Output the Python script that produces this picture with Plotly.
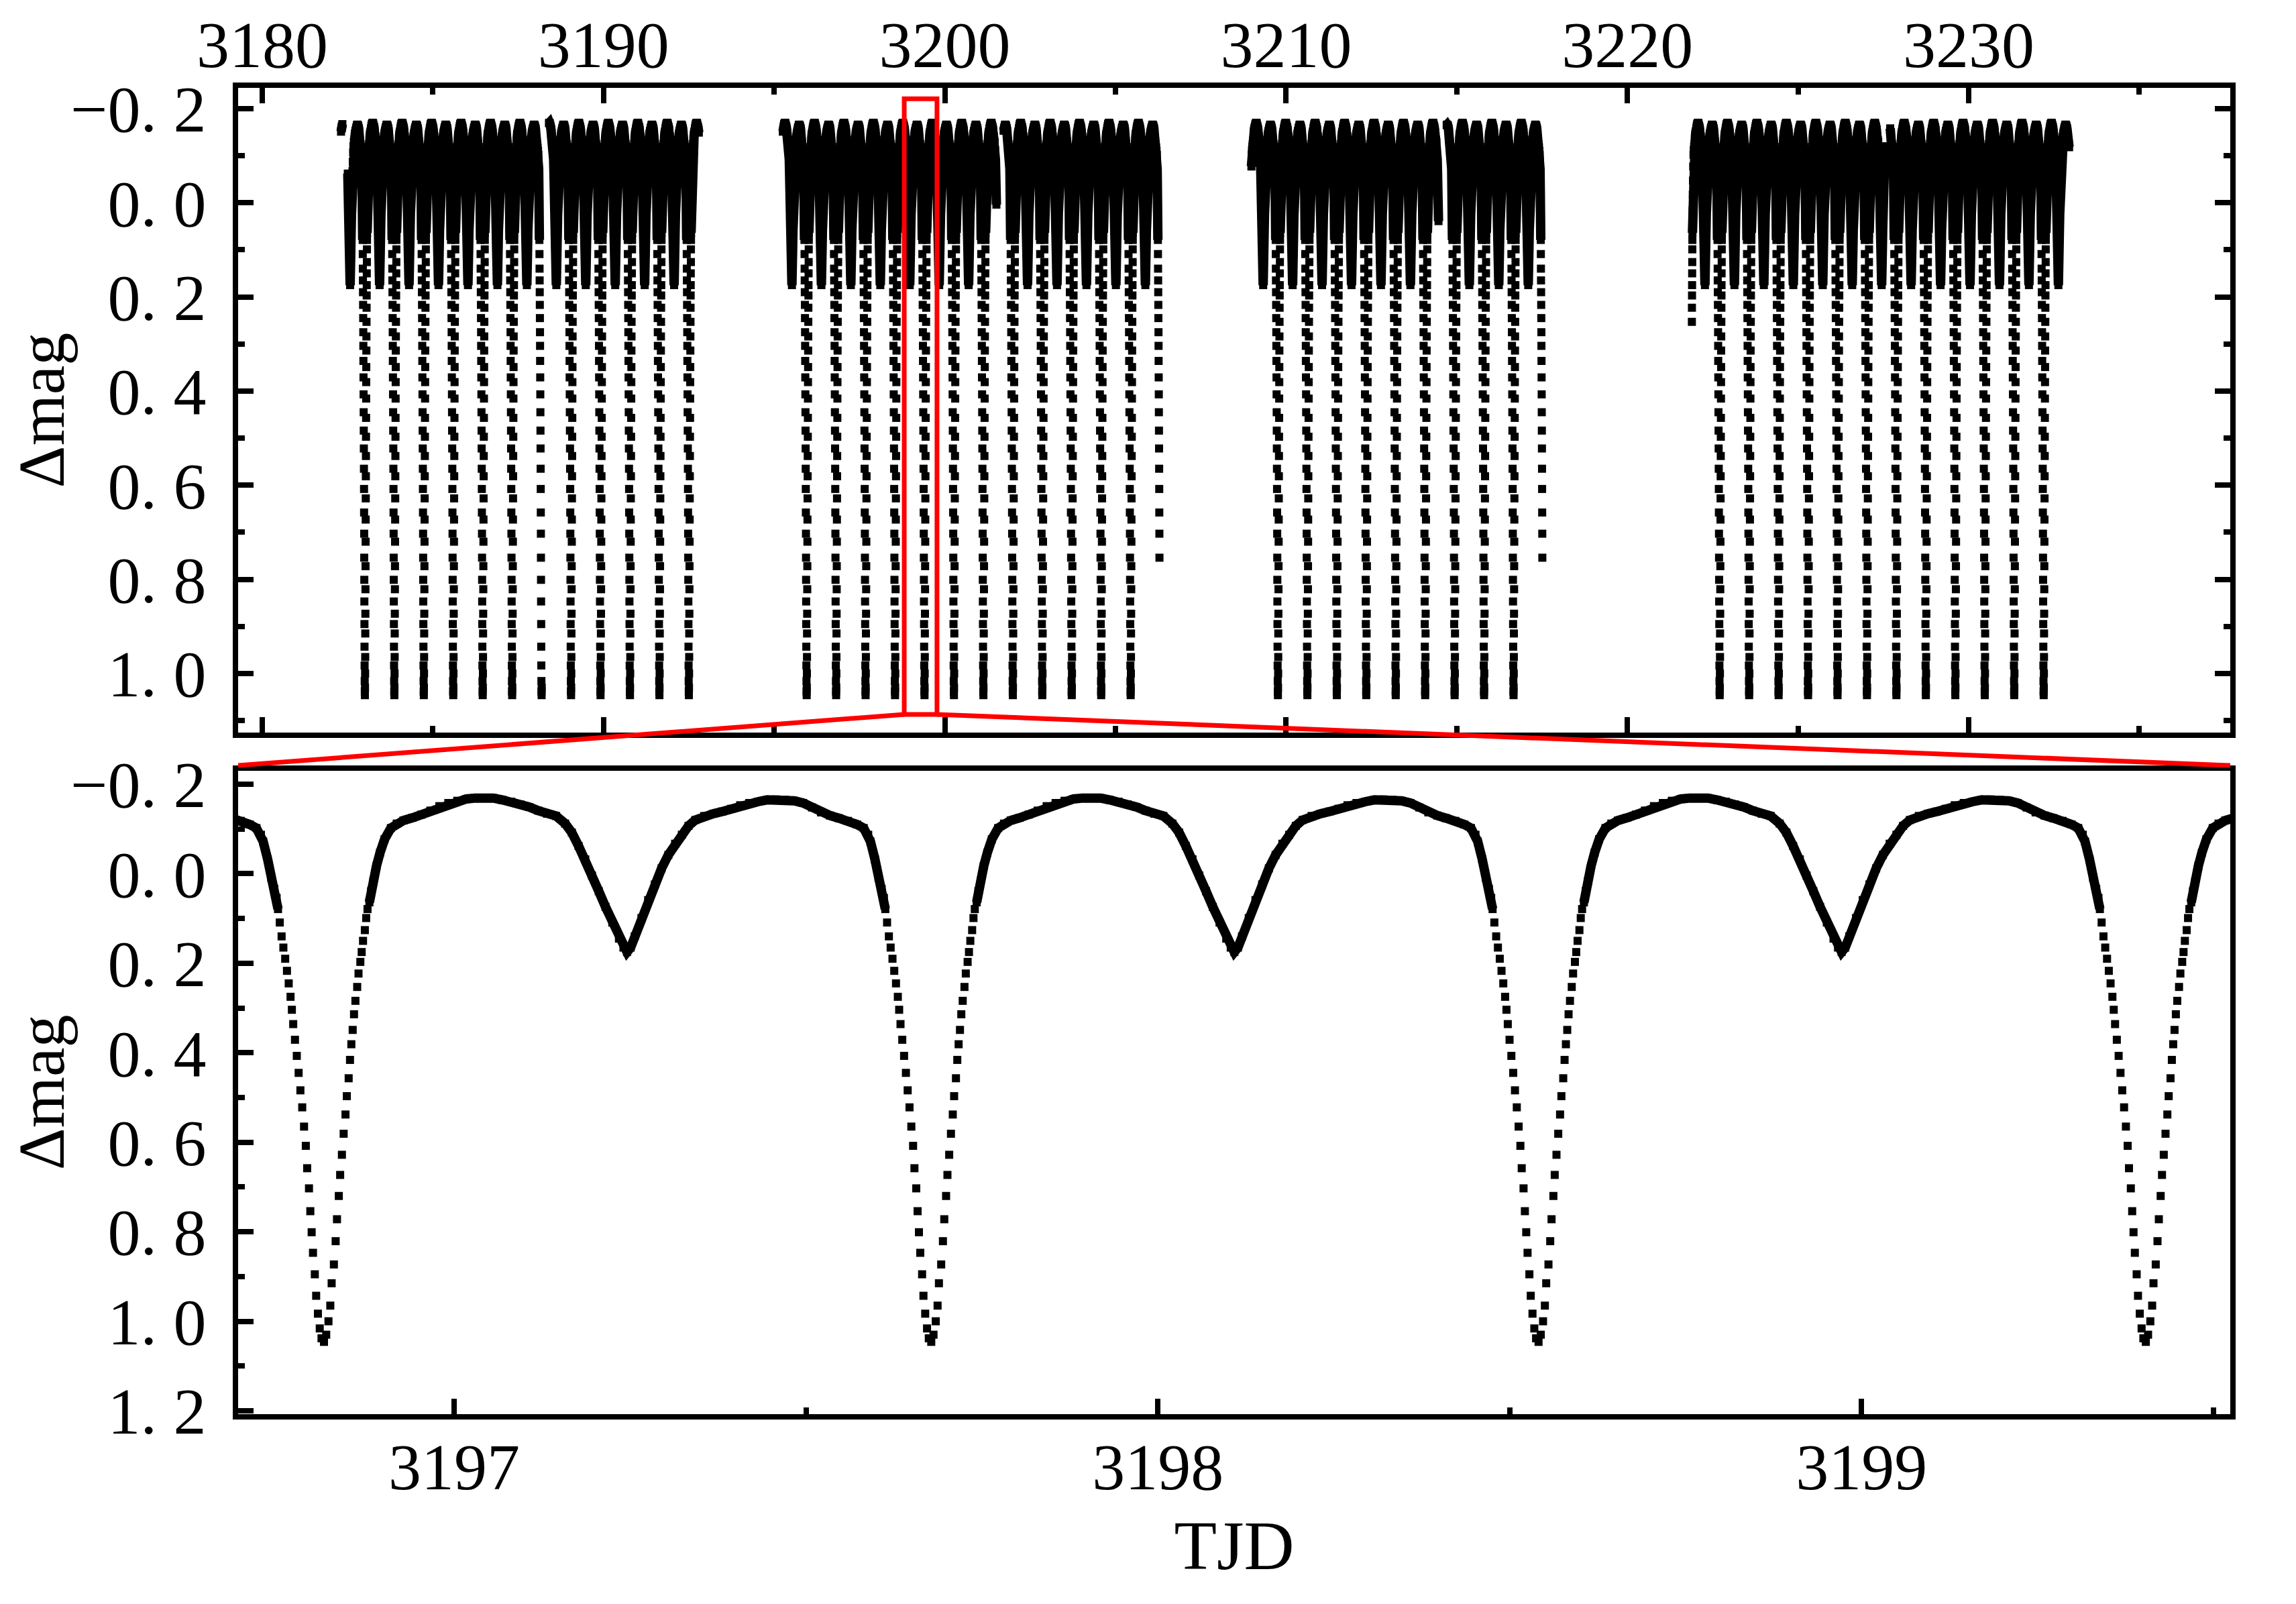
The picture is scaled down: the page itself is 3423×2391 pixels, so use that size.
# Eclipsing binary light curve: full TESS span (top) and a 3-day zoom (bottom)
import plotly.graph_objects as go
from plotly.subplots import make_subplots

# one orbital cycle: days after primary minimum / delta mag
CYCLE_DT = [
    0.0000, 0.0032, 0.0064, 0.0090, 0.0109, 0.0141, 0.0166, 0.0185, 0.0211, 0.0230,
    0.0255, 0.0280, 0.0306, 0.0325, 0.0351, 0.0370, 0.0389, 0.0408, 0.0427, 0.0447,
    0.0472, 0.0491, 0.0517, 0.0536, 0.0555, 0.0581, 0.0600, 0.0619, 0.0645, 0.0670,
    0.0702, 0.0746, 0.0797, 0.0861, 0.0951, 0.1034, 0.1130, 0.1257, 0.1384, 0.1512,
    0.1640, 0.1767, 0.1895, 0.2023, 0.2151, 0.2278, 0.2406, 0.2533, 0.2661, 0.2788,
    0.2916, 0.3044, 0.3172, 0.3299, 0.3427, 0.3522, 0.3618, 0.3713, 0.3809, 0.3905,
    0.4001, 0.4097, 0.4192, 0.4256, 0.4307, 0.4358, 0.4416, 0.4512, 0.4607, 0.4702,
    0.4798, 0.4894, 0.4990, 0.5086, 0.5181, 0.5277, 0.5405, 0.5533, 0.5660, 0.5787,
    0.5915, 0.6043, 0.6170, 0.6298, 0.6426, 0.6554, 0.6681, 0.6808, 0.6936, 0.7064,
    0.7191, 0.7319, 0.7447, 0.7575, 0.7670, 0.7734, 0.7766, 0.7830, 0.7881, 0.7925,
    0.7957, 0.7977, 0.8002, 0.8028, 0.8053, 0.8079, 0.8104, 0.8129, 0.8155, 0.8174,
    0.8193, 0.8218, 0.8244, 0.8270, 0.8295, 0.8321, 0.8347, 0.8372, 0.8391, 0.8417,
    0.8436, 0.8455, 0.8474, 0.8500, 0.8519, 0.8544, 0.8570, 0.8595,
]
CYCLE_MAG = [
    1.046, 1.030, 1.000, 0.965, 0.915, 0.873, 0.821, 0.772, 0.720, 0.673,
    0.628, 0.581, 0.538, 0.497, 0.457, 0.416, 0.381, 0.349, 0.314, 0.284,
    0.253, 0.223, 0.197, 0.175, 0.150, 0.126, 0.099, 0.079, 0.064, 0.039,
    0.017, -0.017, -0.047, -0.077, -0.102, -0.112, -0.119, -0.125, -0.132, -0.141,
    -0.151, -0.158, -0.163, -0.167, -0.169, -0.170, -0.169, -0.165, -0.161, -0.155,
    -0.149, -0.141, -0.134, -0.129, -0.112, -0.092, -0.062, -0.032, 0.004, 0.039,
    0.074, 0.109, 0.145, 0.165, 0.175, 0.165, 0.140, 0.099, 0.059, 0.024,
    -0.012, -0.042, -0.067, -0.087, -0.107, -0.120, -0.129, -0.134, -0.139, -0.145,
    -0.153, -0.158, -0.161, -0.165, -0.166, -0.165, -0.163, -0.158, -0.148, -0.137,
    -0.130, -0.124, -0.118, -0.110, -0.102, -0.087, -0.072, -0.032, 0.009, 0.034,
    0.054, 0.079, 0.109, 0.140, 0.165, 0.190, 0.217, 0.245, 0.275, 0.304,
    0.336, 0.371, 0.407, 0.445, 0.484, 0.522, 0.565, 0.608, 0.658, 0.703,
    0.754, 0.801, 0.847, 0.895, 0.943, 0.983, 1.016, 1.038,
]

# primary minima (TJD)
MINIMA = [
    3182.144, 3183.007, 3183.870, 3184.733, 3185.596, 3186.459, 3187.322, 3188.185,
    3189.048, 3189.911, 3190.774, 3191.637, 3192.500,
    3195.089, 3195.952, 3196.815, 3197.678, 3198.541, 3199.404, 3200.267, 3201.130,
    3201.993, 3202.856, 3203.719, 3204.582, 3205.445,
    3208.897, 3209.760, 3210.623, 3211.486, 3212.349, 3213.212, 3214.075, 3214.938,
    3215.801, 3216.664,
    3221.842, 3222.705, 3223.568, 3224.431, 3225.294, 3226.157, 3227.020, 3227.883,
    3228.746, 3229.609, 3230.472, 3231.335, 3232.198,
]

# stretches of TJD that hold data
SEGMENTS = [
    (3182.30, 3182.35), (3182.50, 3188.19), (3188.40, 3192.80),
    (3195.25, 3201.52), (3201.72, 3206.290),
    (3208.98, 3214.47), (3214.70, 3217.508),
    (3221.887, 3227.55), (3227.70, 3232.955),
]

# part of each cycle where the 200 s points merge into a solid curve
SOLID_FROM = 0.0645
SOLID_TO = 0.7977

TOP_XTICKS = [3180, 3190, 3200, 3210, 3220, 3230]
BOTTOM_XTICKS = [3197, 3198, 3199]
TOP_YTICKS = [-0.2, 0.0, 0.2, 0.4, 0.6, 0.8, 1.0]
TOP_YTEXT = ["\u22120. 2", "0. 0", "0. 2", "0. 4", "0. 6", "0. 8", "1. 0"]
BOTTOM_YTICKS = [-0.2, 0.0, 0.2, 0.4, 0.6, 0.8, 1.0, 1.2]
BOTTOM_YTEXT = ["\u22120. 2", "0. 0", "0. 2", "0. 4", "0. 6", "0. 8", "1. 0", "1. 2"]

TOP_XRANGE = [3179.292, 3237.665]
TOP_YRANGE = [1.1255, -0.244]
BOTTOM_XRANGE = [3196.693, 3199.524]
BOTTOM_YRANGE = [1.2075, -0.230]

# red zoom marker drawn in the upper panel
ZOOM_BOX_X = [3198.81, 3199.77]
ZOOM_BOX_Y = [-0.221, 1.087]

TOP_DOMAIN = [0.5139, 1.0]
BOTTOM_DOMAIN = [0.0, 0.4851]

FONT = "Liberation Serif"


def build_curve():
    px, py = [], []
    lx, ly = [], []
    for t_min in MINIMA:
        run = False
        for dt, mag in zip(CYCLE_DT, CYCLE_MAG):
            t = t_min + dt
            inside = any(a <= t <= b for a, b in SEGMENTS)
            if inside:
                px.append(t)
                py.append(mag)
            if inside and SOLID_FROM <= dt <= SOLID_TO:
                lx.append(t)
                ly.append(mag)
                run = True
            elif run:
                lx.append(None)
                ly.append(None)
                run = False
        if run:
            lx.append(None)
            ly.append(None)
    return px, py, lx, ly


px, py, lx, ly = build_curve()

fig = make_subplots(rows=2, cols=1)

for row in (1, 2):
    fig.add_trace(go.Scatter(x=lx, y=ly, mode="lines",
                             line=dict(color="black", width=14),
                             hoverinfo="skip", connectgaps=False), row=row, col=1)
    fig.add_trace(go.Scatter(x=px, y=py, mode="markers",
                             marker=dict(symbol="square", size=12, color="black",
                                         line=dict(width=0)),
                             hoverinfo="skip"), row=row, col=1)

tick_font = dict(family=FONT, size=98, color="black")
axis_common = dict(showline=True, linewidth=8, linecolor="black", showgrid=False,
                   zeroline=False, ticks="inside", ticklen=23, tickwidth=8,
                   tickcolor="black", tickfont=tick_font, automargin=False)
minor_common = dict(ticks="inside", ticklen=10, tickwidth=8, tickcolor="black",
                    showgrid=False)

fig.update_xaxes(row=1, col=1, range=TOP_XRANGE, side="top", mirror="ticks",
                 tickmode="array", tickvals=TOP_XTICKS, ticklabelstandoff=-16,
                 minor=dict(dtick=5, tick0=3180, **minor_common), **axis_common)
fig.update_yaxes(row=1, col=1, range=TOP_YRANGE, domain=TOP_DOMAIN, mirror="ticks",
                 tickmode="array", tickvals=TOP_YTICKS, ticktext=TOP_YTEXT,
                 ticklabelstandoff=20,
                 minor=dict(dtick=0.1, tick0=0, **minor_common),
                 title=dict(text="\u0394mag", font=dict(family=FONT, size=98, color="black"),
                            standoff=0),
                 **axis_common)
fig.update_xaxes(row=2, col=1, range=BOTTOM_XRANGE, mirror=True,
                 tickmode="array", tickvals=BOTTOM_XTICKS, ticklabelstandoff=-14,
                 minor=dict(dtick=0.5, tick0=3197, **minor_common),
                 title=dict(text="TJD", font=dict(family=FONT, size=104, color="black"),
                            standoff=30),
                 **axis_common)
fig.update_yaxes(row=2, col=1, range=BOTTOM_YRANGE, domain=BOTTOM_DOMAIN, mirror=True,
                 tickmode="array", tickvals=BOTTOM_YTICKS, ticktext=BOTTOM_YTEXT,
                 ticklabelstandoff=20,
                 minor=dict(dtick=0.1, tick0=0, **minor_common),
                 title=dict(text="\u0394mag", font=dict(family=FONT, size=98, color="black"),
                            standoff=0),
                 **axis_common)


def top_paper_y(v):
    frac = (v - TOP_YRANGE[0]) / (TOP_YRANGE[1] - TOP_YRANGE[0])
    return TOP_DOMAIN[0] + frac * (TOP_DOMAIN[1] - TOP_DOMAIN[0])


red = dict(color="red", width=7)
fig.add_shape(type="rect", xref="x", yref="y", x0=ZOOM_BOX_X[0], x1=ZOOM_BOX_X[1],
              y0=ZOOM_BOX_Y[0], y1=ZOOM_BOX_Y[1], line=red, layer="above")
box_bottom = top_paper_y(ZOOM_BOX_Y[1])
panel_top = BOTTOM_DOMAIN[1] + 0.004
fig.add_shape(type="line", xref="x", yref="paper", x0=ZOOM_BOX_X[0], y0=box_bottom,
              x1=TOP_XRANGE[0], y1=panel_top, line=red, layer="above")
fig.add_shape(type="line", xref="x", yref="paper", x0=ZOOM_BOX_X[1], y0=box_bottom,
              x1=TOP_XRANGE[1], y1=panel_top, line=red, layer="above")

fig.update_layout(width=3423, height=2391, showlegend=False,
                  margin=dict(l=347, r=106, t=123, b=291, autoexpand=False),
                  paper_bgcolor="white", plot_bgcolor="white",
                  font=dict(family=FONT, color="black"))

fig.write_html("out.html")
